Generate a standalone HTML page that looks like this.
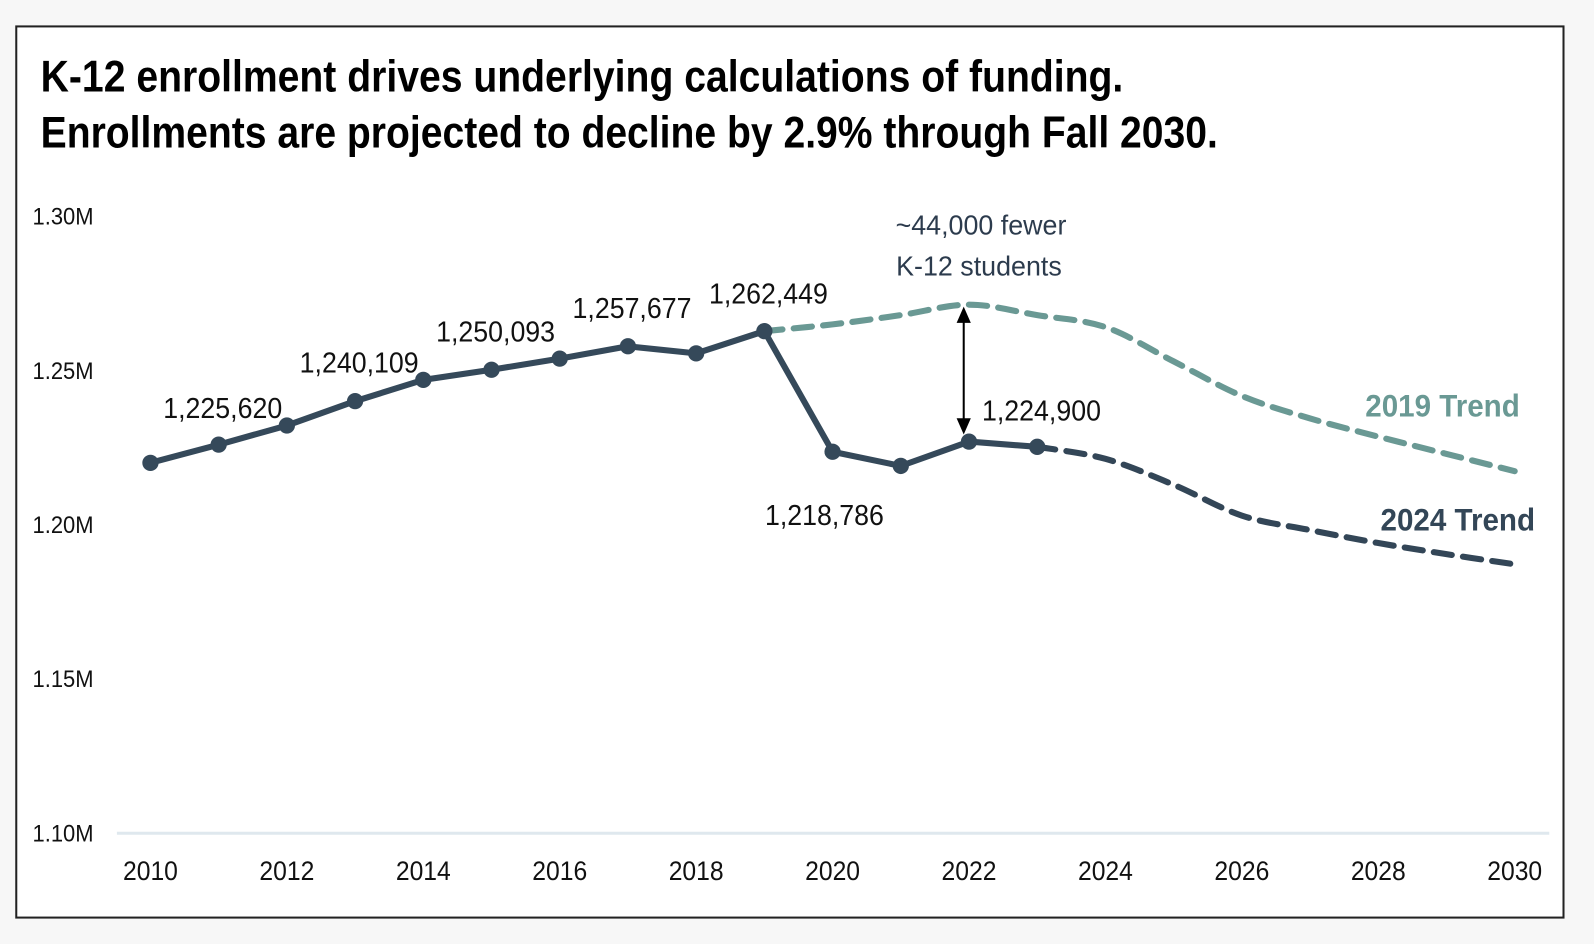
<!DOCTYPE html>
<html><head><meta charset="utf-8"><style>
html,body{margin:0;padding:0;background:#f7f7f7;}
svg{display:block;}
text{font-family:"Liberation Sans Narrow","Liberation Sans",sans-serif;}
</style></head><body>
<svg id="chart" width="1594" height="944" viewBox="0 0 1568 929" preserveAspectRatio="none" xmlns="http://www.w3.org/2000/svg">
<rect x="16" y="26" width="1522" height="877" fill="#fff" stroke="#222" stroke-width="2"/>
<text x="40" y="90" font-size="44" font-weight="bold" fill="#000" textLength="1065" lengthAdjust="spacingAndGlyphs">K-12 enrollment drives underlying calculations of funding.</text>
<text x="40" y="145" font-size="44" font-weight="bold" fill="#000" textLength="1158" lengthAdjust="spacingAndGlyphs">Enrollments are projected to decline by 2.9% through Fall 2030.</text>
<g id="axes"></g>
<g id="marks"></g>
<g id="labels"></g>
</svg>
<script>
const years = [2010,2011,2012,2013,2014,2015,2016,2017,2018,2019,2020,2021,2022,2023];
const actual = [1.2201,1.2260,1.2322,1.2401,1.2470,1.2503,1.2539,1.2579,1.2556,1.2628,1.2237,1.2191,1.2270,1.2253];
const trend2019Years = [2019,2020,2021,2022,2023,2024,2025,2026,2027,2028,2029,2030];
const trend2019 = [1.2628,1.2650,1.2680,1.2714,1.2680,1.2641,1.2530,1.2418,1.2345,1.2286,1.2230,1.2174];
const trend2024Years = [2023,2024,2025,2026,2027,2028,2029,2030];
const trend2024 = [1.2253,1.2214,1.2130,1.2030,1.1983,1.1941,1.1905,1.1872];
const yTicks = [1.10,1.15,1.20,1.25,1.30];
const yTickLabels = ["1.10M","1.15M","1.20M","1.25M","1.30M"];
const xTicks = [2010,2012,2014,2016,2018,2020,2022,2024,2026,2028,2030];
const pointLabels = [
 {year:2011,text:"1,225,620",dx:4,dy:-26},
 {year:2013,text:"1,240,109",dx:4,dy:-28},
 {year:2015,text:"1,250,093",dx:4,dy:-28},
 {year:2017,text:"1,257,677",dx:4,dy:-28},
 {year:2019,text:"1,262,449",dx:4,dy:-27},
 {year:2020,text:"1,218,786",dx:-8,dy:72}
];
const NS="http://www.w3.org/2000/svg";
const x = v => 148 + (v-2010)*(1490-148)/20;
const y = v => 820 - (v-1.10)*(820-213)/0.20;
function mk(tag, attrs, parent){const e=document.createElementNS(NS,tag);for(const k in attrs)e.setAttribute(k,attrs[k]);parent.appendChild(e);return e;}
const axes=document.getElementById('axes'), marks=document.getElementById('marks'), labels=document.getElementById('labels');
let gl=mk('line',{x1:115,x2:1524,y1:y(1.10),y2:y(1.10),stroke:'#dfe8ee','stroke-width':3},axes);


yTicks.forEach((t,i)=>{
 const e=mk('text',{x:92,y:y(t)+8,'font-size':24,fill:'#111','text-anchor':'end',textLength:60,lengthAdjust:'spacingAndGlyphs'},axes);e.textContent=yTickLabels[i];
 
 
});
xTicks.forEach(t=>{
 const e=mk('text',{x:x(t),y:866,'font-size':26,fill:'#111','text-anchor':'middle',textLength:54,lengthAdjust:'spacingAndGlyphs'},axes);e.textContent=t;
 
 
});
function smooth(pts){let d=`M${pts[0][0]},${pts[0][1]}`;for(let i=0;i<pts.length-1;i++){const p0=pts[i-1]||pts[i],p1=pts[i],p2=pts[i+1],p3=pts[i+2]||p2;const c1=[p1[0]+(p2[0]-p0[0])/6,p1[1]+(p2[1]-p0[1])/6],c2=[p2[0]-(p3[0]-p1[0])/6,p2[1]-(p3[1]-p1[1])/6];d+=`C${c1[0]},${c1[1]} ${c2[0]},${c2[1]} ${p2[0]},${p2[1]}`;}return d;}
let t19=mk('path',{d:smooth(trend2019Years.map((yr,i)=>[x(yr),y(trend2019[i])])),fill:'none',stroke:'#6a9994','stroke-width':6,'stroke-dasharray':'18 11','stroke-linecap':'round'},marks);


let t24=mk('path',{d:smooth(trend2024Years.map((yr,i)=>[x(yr),y(trend2024[i])])),fill:'none',stroke:'#334657','stroke-width':6,'stroke-dasharray':'18 11','stroke-linecap':'round'},marks);


let al=mk('polyline',{points:years.map((yr,i)=>`${x(yr)},${y(actual[i])}`).join(' '),fill:'none',stroke:'#35495a','stroke-width':6,'stroke-linejoin':'round'},marks);


years.forEach((yr,i)=>{
 const c=mk('circle',{cx:x(yr),cy:y(actual[i]),r:8,fill:'#35495a'},marks);
 
 
});
pointLabels.forEach(p=>{
 const i=years.indexOf(p.year);
 const e=mk('text',{x:x(p.year)+p.dx,y:y(actual[i])+p.dy,'font-size':28,fill:'#111','text-anchor':'middle',textLength:117,lengthAdjust:'spacingAndGlyphs'},labels);e.textContent=p.text;
 
 
});
let l22=mk('text',{x:966,y:414,'font-size':28,fill:'#111',textLength:117,lengthAdjust:'spacingAndGlyphs'},labels);l22.textContent="1,224,900";


const ax=948, ay1=y(trend2019[3])+2, ay2=y(actual[12])-7;
let arr=mk('g',{},marks);


mk('line',{x1:ax,x2:ax,y1:ay1+14,y2:ay2-14,stroke:'#000','stroke-width':2},arr);
mk('polygon',{points:`${ax},${ay1} ${ax-7},${ay1+16} ${ax+7},${ay1+16}`,fill:'#000'},arr);
mk('polygon',{points:`${ax},${ay2} ${ax-7},${ay2-16} ${ax+7},${ay2-16}`,fill:'#000'},arr);
let a1=mk('text',{x:965,y:231,'font-size':27,fill:'#2c3b4d','text-anchor':'middle',textLength:168,lengthAdjust:'spacingAndGlyphs'},labels);a1.textContent="~44,000 fewer";


let a2=mk('text',{x:963,y:271,'font-size':27,fill:'#2c3b4d','text-anchor':'middle',textLength:163,lengthAdjust:'spacingAndGlyphs'},labels);a2.textContent="K-12 students";


let s19=mk('text',{x:1495,y:410,'font-size':31,'font-weight':'bold',fill:'#6a9994','text-anchor':'end',textLength:152,lengthAdjust:'spacingAndGlyphs'},labels);s19.textContent="2019 Trend";


let s24=mk('text',{x:1510,y:522,'font-size':31,'font-weight':'bold',fill:'#334657','text-anchor':'end',textLength:152,lengthAdjust:'spacingAndGlyphs'},labels);s24.textContent="2024 Trend";


</script>
</body></html>
